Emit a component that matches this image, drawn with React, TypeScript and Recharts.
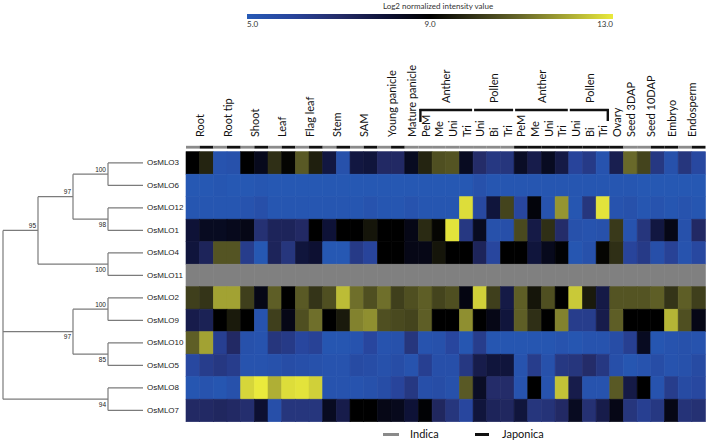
import React from 'react';
import { ScatterChart, Scatter, BarChart, Bar, XAxis, YAxis, ReferenceLine } from 'recharts';

// page + heatmap frame
const W = 708;
const H = 443;
const HEAT_L = 186;
const HEAT_R = 705.5;
const HEAT_T = 151.7;
const HEAT_B = 421.7;
const NCOL = 38;
const COL_W = (HEAT_R - HEAT_L) / NCOL;
const ROW_H = (HEAT_B - HEAT_T) / 12;
const LABEL_BASE = 137;
const BAR_Y = 145.8;
const GROUP_BASE = 103;
const GROUP_LINE_Y = 110;
const GRAY = '#8a8a8a';
const MISSING = '#808080';
const INK = '#111';

const genes = ['OsMLO3', 'OsMLO6', 'OsMLO12', 'OsMLO1', 'OsMLO4', 'OsMLO11', 'OsMLO2', 'OsMLO9', 'OsMLO10', 'OsMLO5', 'OsMLO8', 'OsMLO7'];

const tissues = ['Root', 'Root tip', 'Shoot', 'Leaf', 'Flag leaf', 'Stem', 'SAM', 'Young panicle', 'Mature panicle',
  'PeM', 'Me', 'Uni', 'Tri', 'Uni', 'Bi', 'Tri', 'PeM', 'Me', 'Uni', 'Tri', 'Uni', 'Bi', 'Tri',
  'Ovary', 'Seed 3DAP', 'Seed 10DAP', 'Embryo', 'Endosperm'];
const tissueSpans = [2, 2, 2, 2, 2, 2, 2, 2, 1, 1, 1, 1, 1, 1, 1, 1, 1, 1, 1, 1, 1, 1, 1, 1, 1, 2, 1, 2];

// I = indica (grey bar), J = japonica (black bar), one per column
const cultivar = ['I', 'J', 'I', 'J', 'I', 'J', 'I', 'J', 'I', 'J', 'I', 'J', 'I', 'J', 'I', 'J',
  'I', 'I', 'I', 'I', 'I', 'I', 'I', 'I', 'J', 'J', 'J', 'J', 'J', 'J', 'J',
  'J', 'I', 'I', 'J', 'J', 'I', 'J'];

const groups = ['Anther', 'Pollen', 'Anther', 'Pollen'];
const groupStart = [17, 21, 24, 28];
const groupSpan = [4, 3, 4, 3];

const scaleTicks = [5, 9, 13];
const scaleRange = [{ name: 'scale', range: [5, 13] }];

// log2 normalized intensity, one array per gene (null = no probe)
const osMLO3 = [9.0, 9.7, 5.3, 5.4, 9.0, 8.5, 9.9, 9.1, 10.7, 9.6, 7.8, 5.4, 7.8, 7.9, 7.1, 7.1, 8.4, 9.7, 10.5, 10.6,
  8.4, 7.0, 6.5, 6.6, 8.3, 7.6, 8.4, 7.7, 6.0, 6.4, 5.3, 7.5, 11.0, 10.3, 6.5, 5.4, 6.6, 5.8];
const osMLO6 = [5.1, 5.1, 5.2, 5.1, 5.1, 5.2, 5.1, 5.1, 5.1, 5.1, 5.1, 5.1, 5.1, 5.1, 5.1, 5.1, 5.1, 5.1, 5.1, 5.1,
  5.1, 5.4, 5.2, 5.2, 5.2, 5.2, 5.2, 5.2, 5.2, 5.2, 5.2, 5.2, 5.2, 5.1, 5.1, 5.1, 5.1, 5.1];
const osMLO12 = [5.2, 5.2, 5.2, 5.2, 5.3, 5.5, 5.2, 5.2, 5.2, 5.2, 5.2, 5.2, 5.2, 5.3, 5.2, 5.2, 5.3, 5.2, 5.2, 5.2,
  12.8, 5.8, 7.9, 10.3, 5.9, 8.8, 5.3, 11.7, 5.2, 6.6, 12.9, 5.3, 5.4, 5.2, 5.3, 5.2, 5.3, 5.2];
const osMLO1 = [8.0, 8.4, 8.4, 8.5, 8.6, 6.8, 7.3, 7.3, 7.1, 9.0, 8.0, 9.0, 9.0, 9.4, 9.0, 9.0, 8.6, 9.8, 9.1, 12.9,
  6.5, 8.4, 5.4, 5.5, 10.4, 7.7, 9.9, 7.0, 5.4, 5.3, 5.4, 10.1, 5.3, 6.6, 7.8, 8.6, 5.4, 7.1];
const osMLO4 = [7.9, 7.3, 10.6, 10.6, 6.3, 5.1, 7.3, 6.6, 7.9, 8.1, 5.1, 5.1, 6.4, 6.0, 9.0, 9.0, 8.6, 8.6, 9.4, 9.0,
  9.0, 7.3, 5.9, 9.0, 9.0, 7.9, 8.5, 8.9, 5.2, 5.4, 9.1, 9.9, 6.0, 6.4, 5.5, 6.1, 5.3, 5.8];
const osMLO11: (number | null)[] = Array(NCOL).fill(null);
const osMLO2 = [10.2, 10.0, 11.9, 11.9, 10.2, 8.6, 10.8, 9.0, 10.7, 10.0, 10.5, 12.3, 11.1, 10.5, 11.1, 10.2, 10.5, 10.8, 10.3, 10.5,
  8.7, 12.6, 10.2, 7.7, 10.8, 9.4, 10.5, 9.0, 12.5, 9.5, 7.7, 10.6, 10.6, 10.6, 10.8, 10.0, 10.8, 10.2];
const osMLO9 = [7.6, 7.4, 9.0, 9.5, 9.0, 5.3, 10.2, 8.6, 10.5, 11.1, 9.0, 9.5, 11.4, 11.6, 10.5, 10.4, 10.3, 10.8, 9.0, 9.0,
  11.6, 9.0, 8.6, 7.9, 10.8, 9.9, 9.0, 11.4, 6.3, 6.3, 7.6, 10.8, 9.0, 9.0, 9.0, 12.2, 10.5, 8.6];
const osMLO10 = [10.8, 11.9, 6.2, 7.1, 5.4, 5.3, 6.6, 6.4, 5.9, 6.1, 5.2, 5.2, 5.3, 5.9, 5.3, 5.4, 6.6, 5.3, 5.4, 5.9,
  5.2, 6.3, 5.2, 5.2, 5.2, 5.2, 5.2, 5.3, 5.2, 5.3, 5.3, 5.6, 6.2, 8.4, 5.2, 5.3, 5.4, 5.3];
const osMLO5 = [5.8, 6.3, 6.5, 6.3, 5.3, 5.3, 5.4, 5.6, 5.5, 5.4, 5.3, 5.3, 5.7, 5.6, 5.4, 5.6, 5.3, 6.2, 5.5, 5.5,
  6.5, 7.6, 7.9, 7.9, 5.3, 6.3, 5.4, 6.5, 6.6, 7.0, 6.5, 5.5, 5.2, 5.3, 5.6, 5.3, 5.4, 5.7];
const osMLO8 = [5.2, 5.3, 5.2, 5.4, 12.7, 13.0, 12.1, 12.8, 12.9, 12.6, 5.3, 5.3, 5.3, 5.4, 5.6, 6.0, 6.5, 5.5, 5.6, 5.4,
  10.7, 8.3, 7.0, 7.0, 5.3, 9.0, 5.3, 12.4, 7.6, 5.3, 5.3, 10.7, 7.7, 9.0, 5.3, 6.3, 5.7, 5.8];
const osMLO7 = [7.1, 7.1, 7.2, 7.1, 6.9, 8.1, 5.5, 6.6, 6.6, 6.6, 8.4, 7.6, 9.0, 9.0, 8.6, 8.5, 8.0, 8.9, 7.2, 6.6,
  5.9, 7.9, 7.3, 7.2, 7.9, 6.6, 6.7, 7.1, 8.4, 6.8, 7.6, 8.6, 6.6, 6.2, 6.5, 8.6, 6.7, 6.8];

const rows = [osMLO3, osMLO6, osMLO12, osMLO1, osMLO4, osMLO11, osMLO2, osMLO9, osMLO10, osMLO5, osMLO8, osMLO7];

// bootstrap tree, leaves are row indexes
type Node = number | { s: number | null; c: Node[] };
const tree: Node = {
  s: null,
  c: [
    { s: 95, c: [{ s: 97, c: [{ s: 100, c: [0, 1] }, { s: 98, c: [2, 3] }] }, { s: 100, c: [4, 5] }] },
    { s: 97, c: [{ s: 100, c: [6, 7] }, { s: 85, c: [8, 9] }] },
    { s: 94, c: [10, 11] },
  ],
};

// blue -> black -> yellow
const stops: [number, number[]][] = [
  [5, [38, 90, 182]], [6, [40, 68, 155]], [7, [36, 44, 105]], [8, [14, 18, 55]], [9, [0, 0, 0]],
  [10, [52, 52, 24]], [11, [105, 105, 42]], [12, [168, 168, 52]], [13, [234, 234, 60]],
];

function colorFor(v: number | null) {
  if (v == null) return MISSING;
  const t = Math.max(5, Math.min(13, v));
  let i = 0;
  while (i < stops.length - 2 && t > stops[i + 1][0]) i++;
  const [a, ca] = stops[i];
  const [b, cb] = stops[i + 1];
  const f = (t - a) / (b - a);
  const c = ca.map((x, k) => Math.round(x + (cb[k] - x) * f));
  return `rgb(${c[0]},${c[1]},${c[2]})`;
}

const cells = rows.flatMap((vals, r) => vals.map((v, c) => ({ x: c + 0.5, y: r + 0.5, v })));

const tissueStart = tissueSpans.map((_, i) => tissueSpans.slice(0, i).reduce((a, b) => a + b, 0));
const tissueCenters = tissueSpans.map((s, i) => tissueStart[i] + s / 2);
const groupCenters = groupStart.map((s, i) => s + groupSpan[i] / 2);

// dendrogram segments and support labels
type Seg = { x1: number; y1: number; x2: number; y2: number };
const segs: Seg[] = [];
const supports: { x: number; y: number; s: number; above: boolean }[] = [];
function layout(n: Node, first: boolean): { x: number; y: number; h: number } {
  if (typeof n === 'number') return { x: 4, y: n + 0.5, h: 0 };
  const kids = n.c.map((c, i) => layout(c, i === 0));
  const h = Math.max(...kids.map(k => k.h)) + 1;
  const x = 4 - h;
  const ys = kids.map(k => k.y);
  const y = (Math.min(...ys) + Math.max(...ys)) / 2;
  segs.push({ x1: x, y1: Math.min(...ys), x2: x, y2: Math.max(...ys) });
  kids.forEach(k => segs.push({ x1: x, y1: k.y, x2: k.x, y2: k.y }));
  if (n.s != null) supports.push({ x, y, s: n.s, above: first });
  return { x, y, h };
}
layout(tree, true);

const findIdx = (arr: number[], v: number) => arr.findIndex(a => Math.abs(a - v) < 1e-6);

const TissueTick = (props: any) => {
  const { x, payload } = props;
  const i = findIdx(tissueCenters, payload.value);
  if (i < 0) return null;
  const span = tissueSpans[i];
  const left = x - (span * COL_W) / 2;
  return (
    <g>
      <text x={x} y={LABEL_BASE} transform={`rotate(-90 ${x} ${LABEL_BASE})`} textAnchor="start"
        dominantBaseline="central" fontSize={11} fontFamily="Lato" fill={INK}>{tissues[i]}</text>
      {Array.from({ length: span }, (_, k) => (
        <rect key={k} x={left + k * COL_W} y={BAR_Y} width={COL_W} height={2.8}
          fill={cultivar[tissueStart[i] + k] === 'I' ? GRAY : INK} />
      ))}
    </g>
  );
};

const GroupTick = (props: any) => {
  const { x, payload } = props;
  const i = findIdx(groupCenters, payload.value);
  if (i < 0) return null;
  const half = (groupSpan[i] * COL_W) / 2;
  return (
    <g>
      <text x={x} y={GROUP_BASE} transform={`rotate(-90 ${x} ${GROUP_BASE})`} textAnchor="start"
        dominantBaseline="central" fontSize={11} fontFamily="Lato" fill={INK}>{groups[i]}</text>
      <line x1={x - half + 1} x2={x + half - 1} y1={GROUP_LINE_Y} y2={GROUP_LINE_Y} stroke={INK} strokeWidth={2.6} />
      {i === 0 && <line x1={x - half + 2} x2={x - half + 2} y1={GROUP_LINE_Y - 1} y2={GROUP_LINE_Y + 12} stroke={INK} strokeWidth={2.4} />}
      {i === groups.length - 1 && <line x1={x + half - 2} x2={x + half - 2} y1={GROUP_LINE_Y - 1} y2={GROUP_LINE_Y + 11} stroke={INK} strokeWidth={2.4} />}
    </g>
  );
};

const GeneTick = (props: any) => {
  const { y, payload } = props;
  return (
    <text x={HEAT_L - 39} y={y} dominantBaseline="central" fontSize={8} fontFamily="Liberation Sans" fill="#222">
      {genes[Math.floor(payload.value)]}
    </text>
  );
};

const ScaleTick = (props: any) => {
  const { x, y, payload } = props;
  const i = scaleTicks.indexOf(payload.value);
  const anchor = i === 0 ? 'start' : i === scaleTicks.length - 1 ? 'end' : 'middle';
  return (
    <text x={x} y={y} dy="0.71em" textAnchor={anchor} fontSize={8} fontFamily="Lato" fill="#333">
      {Number(payload.value).toFixed(1)}
    </text>
  );
};

const CellShape = (p: any) => {
  const fill = colorFor(p.payload.v);
  return <rect x={p.cx - COL_W / 2} y={p.cy - ROW_H / 2} width={COL_W} height={ROW_H} fill={fill} stroke={fill} strokeWidth={0.6} />;
};

const SupportShape = (p: any) => (
  <text x={p.cx - 2} y={p.cy + (p.payload.above ? -2.5 : 7.5)} textAnchor="end" fontSize={6.5}
    fontFamily="Liberation Sans" fill="#222">{p.payload.s}</text>
);

const NoShape = () => <g />;

export default function App() {
  return (
    <div style={{ position: 'relative', width: W, height: H, background: '#fff', overflow: 'hidden' }}>
      <style>{'body{margin:0}'}</style>

      <div style={{ position: 'absolute', top: 1, left: 338, width: 200, textAlign: 'center', fontSize: 8, lineHeight: '10px', fontFamily: 'Lato', color: '#333' }}>
        Log2 normalized intensity value
      </div>

      <div style={{ position: 'absolute', top: 0, left: 0 }}>
        <BarChart width={W} height={34} data={scaleRange} layout="vertical" barCategoryGap={0}
          margin={{ top: 14, left: 247, right: 95, bottom: 0 }}>
          <defs>
            <linearGradient id="cbar" x1="0" y1="0" x2="1" y2="0">
              {stops.map(([v, c]) => (
                <stop key={v} offset={`${((v - 5) / 8) * 100}%`} stopColor={`rgb(${c[0]},${c[1]},${c[2]})`} />
              ))}
            </linearGradient>
          </defs>
          <XAxis type="number" domain={[5, 13]} ticks={scaleTicks} interval={0} height={15} allowDataOverflow
            axisLine={false} tickLine={false} tickSize={0} tickMargin={2} tick={ScaleTick} />
          <YAxis type="category" dataKey="name" hide />
          <Bar dataKey="range" fill="url(#cbar)" isAnimationActive={false} />
        </BarChart>
      </div>

      <div style={{ position: 'absolute', top: 0, left: 0 }}>
        <ScatterChart width={150} height={H} margin={{ top: HEAT_T, bottom: H - HEAT_B, left: 3, right: 7 }}>
          <XAxis type="number" dataKey="x" domain={[0, 4]} hide />
          <YAxis type="number" dataKey="y" domain={[0, 12]} reversed hide />
          {segs.map((s, i) => (
            <ReferenceLine key={i} segment={[{ x: s.x1, y: s.y1 }, { x: s.x2, y: s.y2 }]} stroke="#7b7b7b" strokeWidth={1.2} ifOverflow="visible" />
          ))}
          <Scatter data={supports} shape={SupportShape} isAnimationActive={false} />
        </ScatterChart>
      </div>

      <div style={{ position: 'absolute', top: 0, left: 0 }}>
        <ScatterChart width={W} height={H} margin={{ top: HEAT_T - 141, bottom: H - HEAT_B, left: HEAT_L - 45, right: W - HEAT_R }}>
          <XAxis xAxisId="t" orientation="top" type="number" dataKey="x" domain={[0, NCOL]} ticks={tissueCenters}
            interval={0} height={120} axisLine={false} tickLine={false} tick={TissueTick} />
          <XAxis xAxisId="g" orientation="top" type="number" dataKey="x" domain={[0, NCOL]} ticks={groupCenters}
            interval={0} height={21} axisLine={false} tickLine={false} tick={GroupTick} />
          <YAxis type="number" dataKey="y" domain={[0, 12]} reversed ticks={genes.map((_, i) => i + 0.5)} interval={0}
            width={45} axisLine={false} tickLine={false} tickSize={0} tickMargin={0} tick={GeneTick} />
          <Scatter xAxisId="t" data={cells} shape={CellShape} isAnimationActive={false} />
          <Scatter xAxisId="g" data={groupCenters.map(x => ({ x, y: 0 }))} shape={NoShape} isAnimationActive={false} />
        </ScatterChart>
      </div>

      <svg width={W} height={H} style={{ position: 'absolute', top: 0, left: 0, pointerEvents: 'none' }}>
        <line x1={383} x2={399} y1={434.5} y2={434.5} stroke={GRAY} strokeWidth={3} />
        <text x={410} y={438} fontSize={11} fontFamily="Lato" fill={INK}>Indica</text>
        <line x1={475} x2={489} y1={434.5} y2={434.5} stroke={INK} strokeWidth={3} />
        <text x={502} y={438} fontSize={11} fontFamily="Lato" fill={INK}>Japonica</text>
      </svg>
    </div>
  );
}
